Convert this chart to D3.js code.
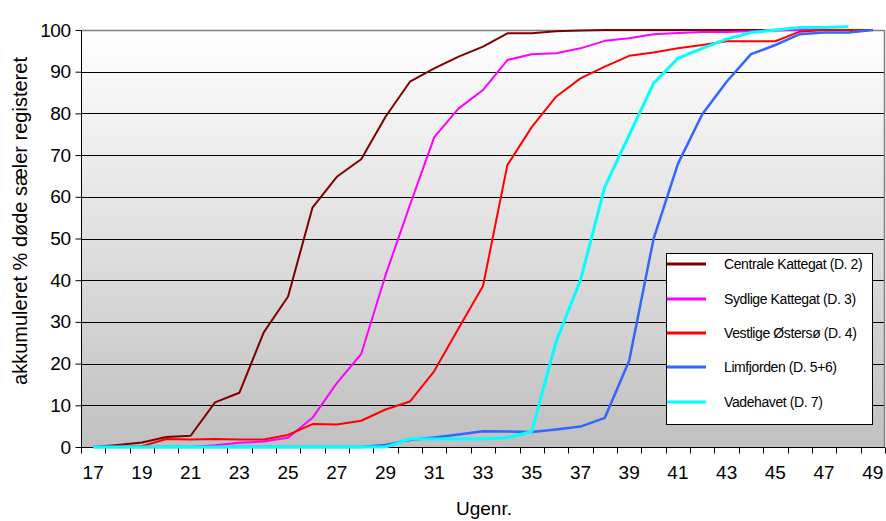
<!DOCTYPE html>
<html>
<head>
<meta charset="utf-8">
<script src="https://cdn.jsdelivr.net/npm/d3@7"></script>
<style>
  html, body { margin: 0; padding: 0; background: #fff; }
  svg { display: block; font-family: Arial, "Liberation Sans", sans-serif; }
</style>
</head>
<body>
<svg id="chart" width="886" height="521"></svg>
<script>
const weeks = [17,18,19,20,21,22,23,24,25,26,27,28,29,30,31,32,33,34,35,36,37,38,39,40,41,42,43,44,45,46,47,48,49];
const weekLabels = [17,19,21,23,25,27,29,31,33,35,37,39,41,43,45,47,49];
const yTicks = [0,10,20,30,40,50,60,70,80,90,100];

const centraleKattegat = [0,0.5,1.1,2.4,2.7,10.7,13,27.5,36.1,57.4,64.8,69,79.2,87.6,90.8,93.6,96,99.2,99.2,99.7,99.9,100,100,100,100,100,100,100,100,100,100,100,100];
const sydligeKattegat  = [0,0,0,0,0,0.4,1.0,1.3,2.2,7.0,15.3,22.3,41.2,58,74.3,81.2,85.6,92.8,94.2,94.4,95.6,97.4,98,99,99.3,99.5,99.5,99.7,99.9,100,100,100,100];
const vestligeOstersoe = [0,0,0.2,1.9,1.8,1.9,1.8,1.8,2.9,5.5,5.4,6.3,9.0,10.9,18.2,28.5,38.6,67.6,76.7,84.0,88.4,91.2,93.8,94.6,95.6,96.4,97.3,97.3,97.3,99.6,100,100,100];
const limfjorden       = [0,0,0,0,0,0,0,0,0,0,0,0,0.5,1.7,2.3,3.0,3.8,3.7,3.6,4.2,4.9,7.0,20.7,49.9,67.9,79.8,87.6,94.2,96.4,99.0,99.4,99.4,100];
const vadehavet        = [0,0,0,0,0,0,0,0,0,0,0,0,0,1.9,1.9,1.9,1.9,2.2,3.7,25.3,40.0,62.4,74.8,87.2,93.2,95.6,97.8,99.4,100,100.6,100.6,100.8,null];

const seriesNames = ["Centrale Kattegat (D. 2)","Sydlige Kattegat (D. 3)","Vestlige Østersø (D. 4)","Limfjorden (D. 5+6)","Vadehavet (D. 7)"];
const seriesValues = [centraleKattegat, sydligeKattegat, vestligeOstersoe, limfjorden, vadehavet];
const seriesColors = ["#800000","#FF00FF","#FF0000","#3366FF","#00FFFF"];
const seriesWidths = [2,2,2,2.5,3];

(function(){
const svg = d3.select("#chart");
const L = 81, R = 885, T = 30, B = 447;

const x = d3.scaleBand().domain(weeks).range([L, R]).padding(0);
const y = d3.scaleLinear().domain([0,100]).range([B, T]);

const defs = svg.append("defs");
const grad = defs.append("linearGradient").attr("id","bg").attr("x1",0).attr("y1",0).attr("x2",0).attr("y2",1);
grad.append("stop").attr("offset","0%").attr("stop-color","#ffffff");
grad.append("stop").attr("offset","100%").attr("stop-color","#c0c0c0");

svg.append("rect").attr("x",L).attr("y",T).attr("width",R-L).attr("height",B-T).attr("fill","url(#bg)");

svg.append("g").selectAll("line").data(yTicks.filter(d => d > 0 && d < 100)).join("line")
  .attr("x1",L).attr("x2",R)
  .attr("y1",d => Math.round(y(d))+0.5).attr("y2",d => Math.round(y(d))+0.5)
  .attr("stroke","#000").attr("stroke-width",1);

svg.append("path")
  .attr("d",`M${L},${T+0.5}H${R-0.5}V${B}`)
  .attr("fill","none").attr("stroke","#808080").attr("stroke-width",1.5);

const yAxis = d3.axisLeft(y).tickValues(yTicks).tickSize(6).tickPadding(5);
const gy = svg.append("g").attr("transform",`translate(${L+0.5},0)`).call(yAxis);
gy.select(".domain").attr("stroke","#000").attr("d",`M0,${T}V${B+6}`);
gy.selectAll(".tick line").attr("stroke","#000");
gy.selectAll("text").attr("font-size",19).attr("fill","#000").attr("letter-spacing",-0.5)
  .attr("font-family","Arial, 'Liberation Sans', sans-serif");

const gx = svg.append("g").attr("transform",`translate(0,${B+0.5})`);
gx.append("line").attr("x1",L).attr("x2",R).attr("y1",0).attr("y2",0).attr("stroke","#000");
const bounds = weeks.map(w => x(w)).concat([R]);
gx.selectAll("line.tk").data(bounds).join("line").attr("class","tk")
  .attr("x1",d => Math.round(d)+0.5).attr("x2",d => Math.round(d)+0.5).attr("y1",0).attr("y2",6).attr("stroke","#000");
gx.selectAll("text").data(weekLabels).join("text")
  .attr("x",d => x(d) + x.bandwidth()/2).attr("y",31)
  .attr("text-anchor","middle").attr("font-size",19).attr("fill","#000")
  .text(d => d);

const line = d3.line()
  .defined(d => d.v !== null)
  .x(d => x(d.w) + x.bandwidth()/2)
  .y(d => y(d.v));

seriesValues.forEach((vals, i) => {
  const pts = weeks.map((w, j) => ({w, v: vals[j]}));
  svg.append("path").datum(pts)
    .attr("d", line)
    .attr("fill","none")
    .attr("stroke", seriesColors[i])
    .attr("stroke-width", seriesWidths[i])
    .attr("stroke-linejoin","round");
});

svg.append("text").attr("x",484).attr("y",515).attr("text-anchor","middle")
  .attr("font-size",19).attr("fill","#000").text("Ugenr.");
svg.append("text").attr("transform","translate(27,221) rotate(-90)").attr("text-anchor","middle")
  .attr("font-size",20).attr("fill","#000").text("akkumuleret % døde sæler registeret");

const lg = svg.append("g");
lg.append("rect").attr("x",666.5).attr("y",253.5).attr("width",206).attr("height",171)
  .attr("fill","#fff").attr("stroke","#000").attr("stroke-width",1);
const rowY = [264,299,333,367,402];
seriesNames.forEach((name, i) => {
  lg.append("line").attr("x1",667).attr("x2",706).attr("y1",rowY[i]).attr("y2",rowY[i])
    .attr("stroke",seriesColors[i]).attr("stroke-width",3);
  lg.append("text").attr("x",724).attr("y",rowY[i]+5)
    .attr("font-size",14).attr("fill","#000").attr("letter-spacing",-0.4).text(name);
});
})();
</script>
</body>
</html>
